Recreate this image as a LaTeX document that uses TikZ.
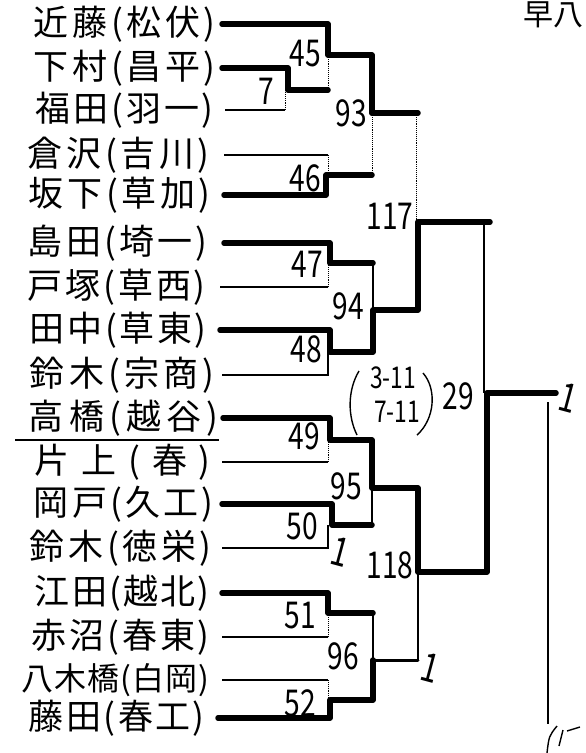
\documentclass[tikz,border=0pt]{standalone}
\usepackage{fontspec}
\newfontfamily\jp{Noto Sans CJK JP}
\newfontfamily\jpn[FakeStretch=0.76]{Noto Sans CJK JP}
\newcommand{\pn}[2][182pt]{\makebox[#1][s]{#2}}
\begin{document}
\begin{tikzpicture}[x=1pt,y=-1pt,
  win/.style={line width=5.5pt, line cap=round, line join=round},
  mid/.style={line width=3pt, line cap=round},
  lose/.style={line width=1.4pt},
  dot/.style={line width=0.9pt, densely dotted},
  pname/.style={anchor=east, font=\jp\fontsize{35}{35}\selectfont, inner sep=0pt},
  num/.style={font=\jpn\fontsize{37}{37}\selectfont, inner sep=0pt},
  small/.style={font=\jpn\fontsize{30}{30}\selectfont, inner sep=0pt, text height=11pt, text depth=0pt},
  onemark/.style={font=\jpn\fontsize{40}{40}\selectfont, inner sep=0pt, rotate=-15}]
\useasboundingbox (0,0) rectangle (586,753);
\fill[white] (0,0) rectangle (586,753);

% ---- names
\node[pname] (n1)  at (216,24)  {\pn{近\hfill 藤\hfill(\hfill 松\hfill 伏\hfill)}};
\node[pname] (n2)  at (216,68)  {\pn{下\hfill 村\hfill(\hfill 昌\hfill 平\hfill)}};
\node[pname] (n3)  at (214,110) {\pn[178pt]{福\hfill 田\hfill(\hfill 羽\hfill 一\hfill)}};
\node[pname] (n4)  at (210,155) {\pn{倉\hfill 沢\hfill(\hfill 吉\hfill 川\hfill)}};
\node[pname] (n5)  at (211,195) {\pn{坂\hfill 下\hfill(\hfill 草\hfill 加\hfill)}};
\node[pname] (n6)  at (208,243) {\pn[180pt]{島\hfill 田\hfill(\hfill 埼\hfill 一\hfill)}};
\node[pname] (n7)  at (206,287) {\pn[178pt]{戸\hfill 塚\hfill(\hfill 草\hfill 西\hfill)}};
\node[pname] (n8)  at (207,330) {\pn[177pt]{田\hfill 中\hfill(\hfill 草\hfill 東\hfill)}};
\node[pname] (n9)  at (215,375) {\pn[185pt]{鈴\hfill 木\hfill(\hfill 宗\hfill 商\hfill)}};
\node[pname] (n10) at (219,418) {\pn[190pt]{高\hfill 橋\hfill(\hfill 越\hfill 谷\hfill)}};
\node[pname] (n11) at (211,462) {\pn[176pt]{片\hfill 上\hfill(\hfill 春\hfill)}};
\node[pname] (n12) at (214,504) {\pn[180pt]{岡\hfill 戸\hfill(\hfill 久\hfill 工\hfill)}};
\node[pname] (n13) at (212,548) {\pn[182pt]{鈴\hfill 木\hfill(\hfill 徳\hfill 栄\hfill)}};
\node[pname] (n14) at (210,593) {\pn[175pt]{江\hfill 田\hfill(\hfill 越\hfill 北\hfill)}};
\node[pname] (n15) at (210,637) {\pn[178pt]{赤\hfill 沼\hfill(\hfill 春\hfill 東\hfill)}};
\node[pname, font=\jp\fontsize{32}{32}\selectfont] (n16) at (210,680) {\pn[188pt]{八\hfill 木\hfill 橋\hfill(\hfill 白\hfill 岡\hfill)}};
\node[pname] (n17) at (205,718) {\pn[176pt]{藤\hfill 田\hfill(\hfill 春\hfill 工\hfill)}};
\draw[lose] (15,440) -- (n10.south east |- 0,440);

% ---- junctions
\coordinate (m7)   at (288,90);
\coordinate (m45)  at (328,55);
\coordinate (m46)  at (326,175);
\coordinate (m93)  at (372,113);
\coordinate (m47)  at (330,263);
\coordinate (m48)  at (330,352);
\coordinate (m94)  at (373,310);
\coordinate (m117) at (418,222);
\coordinate (s117) at (484,222);
\coordinate (e117) at (490,222);
\coordinate (m49)  at (330,440);
\coordinate (m50)  at (332,525);
\coordinate (m95)  at (372,488);
\coordinate (m51)  at (328,613);
\coordinate (m52)  at (330,700);
\coordinate (m96)  at (373,660);
\coordinate (m118) at (418,572);
\coordinate (m129) at (487,393);
\coordinate (fin)  at (556,393);
\coordinate (ft)   at (548,402);
\coordinate (fb)   at (548,724);

% ---- block 1
\draw[win] ([xshift=6pt]n1.east) -- (m45 |- n1.east) -- (m45) -- (m93 |- m45) -- (m93);
\draw[win] ([xshift=6pt]n2.east) -- (m7 |- n2.east) -- (m7) -- (m45 |- m7);
\draw[lose] ([xshift=11pt]n3.east) -- ([xshift=-3pt]m7 |- n3.east);
\draw[dot] ([xshift=-3pt]m7 |- n3.east) -- ([xshift=-3pt]m7);
\draw[dot] (m45 |- m7) -- (m45);
\draw[lose] ([xshift=14pt]n4.east) -- ([xshift=2pt]m46 |- n4.east);
\draw[dot] ([xshift=2pt]m46 |- n4.east) -- ([xshift=2pt]m46);
\draw[win] ([xshift=13pt]n5.east) -- (m46 |- n5.east) -- (m46) -- (m93 |- m46);
\draw[dot] (m93 |- m46) -- (m93);
\draw[win] (m93) -- (m117 |- m93);
\draw[dot] ([xshift=-2pt]m117 |- m93) -- ([xshift=-2pt]m117);

% ---- block 2
\draw[win] ([xshift=16pt]n6.east) -- (m47 |- n6.east) -- (m47) -- (m94 |- m47);
\draw[lose] ([xshift=14pt]n7.east) -- ([xshift=-2pt]m47 |- n7.east);
\draw[dot] ([xshift=-2pt]m47 |- n7.east) -- ([xshift=-2pt]m47);
\draw[lose] (m94 |- m47) -- (m94);
\draw[win] ([xshift=13pt]n8.east) -- (m48 |- n8.east) -- (m48) -- (m94 |- m48) -- (m94) -- (m117 |- m94) -- (m117) -- (e117);
\draw[lose] ([xshift=7pt]n9.east) -- ([xshift=-2pt]m48 |- n9.east) -- ([xshift=-2pt]m48);
\draw[lose] (s117) -- (s117 |- m129);

% ---- block 3
\draw[win] ([xshift=4pt]n10.east) -- (m49 |- n10.east) -- (m49) -- (m95 |- m49) -- (m95) -- (m118 |- m95) -- (m118) -- (m129 |- m118) -- (m129) -- (fin);
\draw[lose] ([xshift=11pt]n11.east) -- ([xshift=-2pt]m49 |- n11.east);
\draw[dot] ([xshift=-2pt]m49 |- n11.east) -- ([xshift=-2pt]m49);
\draw[win] ([xshift=8pt]n12.east) -- (m50 |- n12.east) -- (m50) -- (m95 |- m50);
\draw[lose] ([xshift=10pt]n13.east) -- ([xshift=-4pt]m50 |- n13.east) -- ([xshift=-4pt]m50);
\draw[lose] (m95 |- m50) -- (m95);

% ---- block 4
\draw[win] ([xshift=12pt]n14.east) -- (m51 |- n14.east) -- (m51) -- (m96 |- m51);
\draw[lose] (m96 |- m51) -- (m96);
\draw[lose] ([xshift=12pt]n15.east) -- (m51 |- n15.east);
\draw[dot] (m51 |- n15.east) -- (m51);
\draw[lose] ([xshift=12pt]n16.east) -- ([xshift=-2pt]m52 |- n16.east);
\draw[dot] ([xshift=-2pt]m52 |- n16.east) -- ([xshift=-2pt]m52);
\draw[win] ([xshift=13pt]n17.east) -- (m52 |- n17.east) -- (m52) -- (m96 |- m52) -- (m96);
\draw[mid] (m96) -- (m118 |- m96);
\draw[lose] (m118 |- m96) -- (m118);

% ---- final thin line
\draw[lose] (ft) -- (fb);

% ---- labels
\node[num] (l7)   at (266,91)  {7};
\node[num] (l45)  at (305,54)  {45};
\node[num] (l46)  at (305,178) {46};
\node[num] (l93)  at (351,113) {93};
\node[num] (l47)  at (307,264) {47};
\node[num] (l48)  at (306,349) {48};
\node[num] (l94)  at (348,306) {94};
\node[num] (l117) at (390,216) {117};
\node[num] (l49)  at (304,436) {49};
\node[num] (l50)  at (302,526) {50};
\node[num] (l95)  at (346,486) {95};
\node[num] (l51)  at (300,616) {51};
\node[num] (l52)  at (300,703) {52};
\node[num] (l96)  at (343,656) {96};
\node[num] (l118) at (390,565) {118};
\node[num] (l29)  at (458,396) {29};
\node[small] (sc1) at (393,383) {3-11};
\node[small] (sc2) at (397,417) {7-11};
\draw[lose, shift={(sc1)}] (-34,-12) .. controls (-46,8) and (-45,34) .. (-36,52);
\draw[lose, shift={(sc1)}] (30,-10) .. controls (44,6) and (42,36) .. (24,52);
\node[onemark] (o50)  at (340,552) {1};
\node[onemark] (o96)  at (430,668) {1};
\node[onemark] (o129) at (568,398) {1};

% ---- writing at the edges
\node[anchor=north east, font=\jp\fontsize{30}{30}\selectfont, inner sep=0pt] (top) at (584,2) {早八};
\begin{scope}
\clip (0,0) rectangle (586,753);
\draw[lose] (557,726) .. controls (549,736) .. (547,753);
\draw[lose] (563,730) -- (559,746);
\draw[lose] (567,731) -- (580,727);
\end{scope}
\end{tikzpicture}
\end{document}
